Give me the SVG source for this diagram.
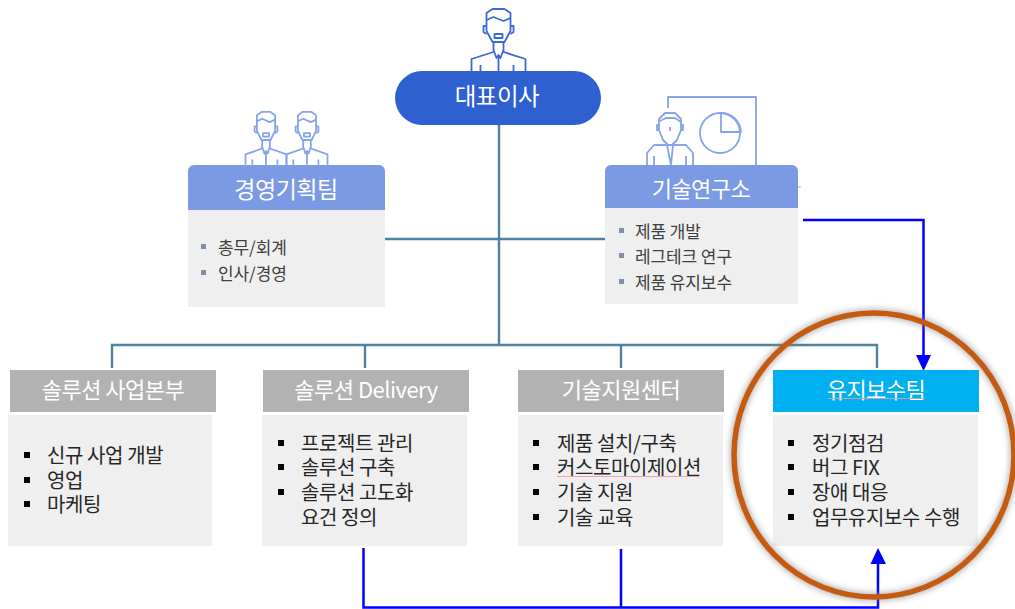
<svg xmlns="http://www.w3.org/2000/svg" width="1015" height="609" viewBox="0 0 1015 609">
<defs>
<style>
text{font-family:"Noto Sans CJK KR","Noto Sans",sans-serif}
.h{fill:#fff;font-size:22px;text-anchor:middle;letter-spacing:-.5px}
.t{fill:#262626;font-size:20px;letter-spacing:-.4px}
.s{fill:#404040;font-size:17px;letter-spacing:-.1px}
.body{fill:#efefef}
.g{fill:#b2b2b2}
.b{fill:#000}
.sq{fill:#7f8fa9}
.ic{fill:none;stroke:#86a4ec;stroke-width:1.800;stroke-linejoin:round}
.ic2{fill:none;stroke:#3d68d8;stroke-width:1.800;stroke-linejoin:round}
.org{fill:none;stroke:#4f81a0;stroke-width:2.400}
.blu{fill:none;stroke:#0000ff;stroke-width:2.500}
</style>
<filter id="sh" x="-10%" y="-10%" width="120%" height="120%"><feGaussianBlur stdDeviation="3"/></filter>
<g id="man">
<path vector-effect="non-scaling-stroke" d="M-12 31V13L-6 9H6L12 13V31L6 42H-6Z"/>
<path vector-effect="non-scaling-stroke" d="M-12 20L-5 17L5 21L12 18"/>
<path vector-effect="non-scaling-stroke" d="M-12 26H-15V32L-12 34M12 26H15V32L12 34"/>
<rect vector-effect="non-scaling-stroke" x="-4" y="34" width="8" height="4"/>
<path vector-effect="non-scaling-stroke" d="M-5 42V52L-27 59V71M5 42V52L27 59V71M-5 50L-2 58L0 55L2 58L5 50M0 55V71M-18 65V71M15 65V71"/>
</g>
</defs>

<g id="connectors">
<path class="org" d="M499 125V345M112 368V345H877V368M365 345V368M621 345V368M385 239H605"/>
<path d="M798 187h3" stroke="#b0b0b0" stroke-width="1" fill="none"/>
<path class="blu" d="M803 220H923.500V358"/>
<path d="M916 355H931L923.500 371z" fill="#0000ff"/>
<path class="blu" d="M363.500 548V607.500H878V560M621 549V607.500"/>
<path d="M870.500 564H886L878 548z" fill="#0000ff"/>
</g>

<g id="ceo">
<g class="ic2"><use href="#man" transform="translate(498.500 0)"/></g>
<rect x="395" y="71" width="206" height="54" rx="27" fill="#2f60d0"/>
<text class="h" x="497" y="105" style="font-size:23.500px">대표이사</text>
</g>

<g id="planning">
<g class="ic" transform="translate(266 104.300) scale(.76 .85)"><use href="#man"/></g>
<g class="ic" transform="translate(307 104.300) scale(.76 .85)"><use href="#man"/></g>
<rect x="188" y="210" width="197" height="97" class="body"/>
<path d="M188 210V171a6 6 0 0 1 6-6H379a6 6 0 0 1 6 6V210z" fill="#7c9ae3"/>
<text class="h" x="286" y="198" style="font-size:23px">경영기획팀</text>
<rect x="201" y="244" width="5" height="5" class="sq"/><text class="s" x="218" y="253.500">총무/회계</text>
<rect x="201" y="270" width="5" height="5" class="sq"/><text class="s" x="218" y="279.500">인사/경영</text>
</g>

<g id="lab">
<g class="ic">
<path d="M668 108V97H756V165"/>
<circle cx="720" cy="133" r="20"/>
<path d="M721 113a20 20 0 0 1 20 19H721z"/>
<path d="M659 130V119L665 113H675L681 119V130L677 140L672 145H668L663 140Z"/>
<path d="M660 121L666 118H675L681 122"/>
<path d="M659 125H657V130H659M681 125H683V130H681"/>
<path d="M670 127v4"/>
<path d="M667 145H654L647 153V165M673 145H686L693 153V165M667 145L671 165L673 145M654 156V165M686 156V165"/>
</g>
<rect x="605" y="208" width="193" height="96" class="body"/>
<path d="M605 208V171a6 6 0 0 1 6-6H792a6 6 0 0 1 6 6V208z" fill="#7c9ae3"/>
<text class="h" x="701" y="197">기술연구소</text>
<rect x="619" y="228" width="5" height="5" class="sq"/><text class="s" x="635" y="237.500">제품 개발</text>
<rect x="619" y="253" width="5" height="5" class="sq"/><text class="s" x="635" y="262.500">레그테크 연구</text>
<rect x="619" y="279" width="5" height="5" class="sq"/><text class="s" x="635" y="288.500">제품 유지보수</text>
</g>

<g id="solution">
<rect x="10" y="370" width="206" height="42" class="g"/>
<text class="h" x="113" y="398">솔루션 사업본부</text>
<rect x="8" y="415" width="204" height="131" class="body"/>
<rect x="24" y="452" width="6" height="6" class="b"/><text class="t" x="47" y="463">신규 사업 개발</text>
<rect x="24" y="477" width="6" height="6" class="b"/><text class="t" x="47" y="488">영업</text>
<rect x="24" y="501" width="6" height="6" class="b"/><text class="t" x="47" y="512">마케팅</text>
</g>

<g id="delivery">
<rect x="263" y="370" width="206" height="42" class="g"/>
<text class="h" x="366" y="398">솔루션 Delivery</text>
<rect x="262" y="415" width="205" height="131" class="body"/>
<rect x="278" y="440" width="6" height="6" class="b"/><text class="t" x="301" y="451">프로젝트 관리</text>
<rect x="278" y="464" width="6" height="6" class="b"/><text class="t" x="301" y="475">솔루션 구축</text>
<rect x="278" y="489" width="6" height="6" class="b"/><text class="t" x="301" y="500">솔루션 고도화</text>
<text class="t" x="301" y="525">요건 정의</text>
</g>

<g id="support">
<rect x="518" y="370" width="206" height="42" class="g"/>
<text class="h" x="621" y="398">기술지원센터</text>
<rect x="518" y="415" width="205" height="131" class="body"/>
<rect x="533" y="440" width="6" height="6" class="b"/><text class="t" x="557" y="451">제품 설치/구축</text>
<rect x="533" y="464" width="6" height="6" class="b"/><text class="t" x="557" y="475">커스토마이제이션</text>
<path d="M557 476.500H699" stroke="#f0a0a8" stroke-width="1" fill="none"/>
<rect x="533" y="489" width="6" height="6" class="b"/><text class="t" x="557" y="500">기술 지원</text>
<rect x="533" y="514" width="6" height="6" class="b"/><text class="t" x="557" y="525">기술 교육</text>
</g>

<g id="maintenance">
<rect x="773" y="370" width="206" height="42" fill="#00b0f0"/>
<text class="h" x="876" y="398">유지보수팀</text>
<path d="M828 398.500H925" stroke="#b9a9a9" stroke-width="1" fill="none"/>
<rect x="773" y="415" width="205" height="131" class="body"/>
<rect x="788" y="440" width="6" height="6" class="b"/><text class="t" x="812" y="451">정기점검</text>
<rect x="788" y="464" width="6" height="6" class="b"/><text class="t" x="812" y="475">버그 FIX</text>
<rect x="788" y="489" width="6" height="6" class="b"/><text class="t" x="812" y="500">장애 대응</text>
<rect x="788" y="514" width="6" height="6" class="b"/><text class="t" x="812" y="525">업무유지보수 수행</text>
</g>

<g id="highlight">
<ellipse cx="874" cy="455" rx="140" ry="142" fill="none" stroke="#808080" stroke-width="8" opacity=".6" filter="url(#sh)"/>
<ellipse cx="874" cy="455" rx="140" ry="142" fill="none" stroke="#c55a11" stroke-width="5.500"/>
</g>
</svg>
